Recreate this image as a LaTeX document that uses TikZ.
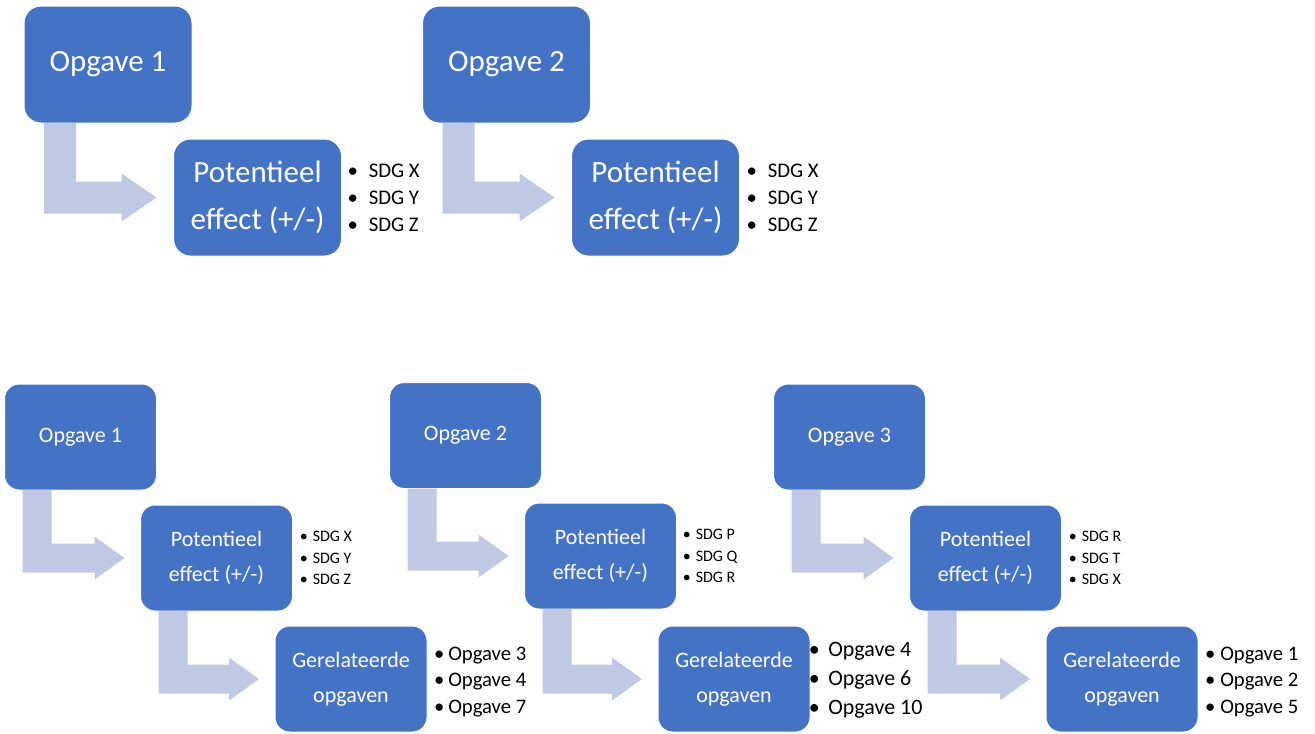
\documentclass[tikz,border=0pt]{standalone}
\usepackage{fontspec}
\setmainfont{Carlito}
\usetikzlibrary{calc}
\definecolor{boxblue}{RGB}{68,114,196}
\definecolor{arrowblue}{RGB}{191,201,227}
\newcommand{\bul}[2]{\makebox[0pt]{\textbullet}\hspace{#1}#2}
% #1 from node, #2 to node, #3 stem offset, #4 stem width, #5 head half height, #6 head length, #7 gap (all px)
\newcommand{\bentarr}[7]{%
  \fill[arrowblue] let \p1=(#1.south west), \p2=(#2.west) in
    (\x1+#3*0.75pt,\y1)
    -- (\x1+#3*0.75pt+#4*0.75pt,\y1)
    -- (\x1+#3*0.75pt+#4*0.75pt,\y2+#4*0.375pt)
    -- (\x2-#7*0.75pt-#6*0.75pt,\y2+#4*0.375pt)
    -- (\x2-#7*0.75pt-#6*0.75pt,\y2+#5*0.75pt)
    -- (\x2-#7*0.75pt,\y2)
    -- (\x2-#7*0.75pt-#6*0.75pt,\y2-#5*0.75pt)
    -- (\x2-#7*0.75pt-#6*0.75pt,\y2-#4*0.375pt)
    -- (\x1+#3*0.75pt,\y2-#4*0.375pt) -- cycle;}
\tikzset{
  tbox/.style={draw=white, line width=0.75pt, fill=boxblue, rounded corners=12.75pt,
    minimum width=126pt, minimum height=87.75pt, inner sep=0pt, outer sep=0pt,
    text=white, align=center, font=\fontsize{23.2}{35}\selectfont},
  bbox/.style={draw=white, line width=0.75pt, fill=boxblue, rounded corners=11pt,
    minimum width=114pt, minimum height=79.5pt, inner sep=0pt, outer sep=0pt,
    text=white, align=center, font=\fontsize{16.5}{26}\selectfont},
  tlist/.style={anchor=west, inner sep=0pt, align=left, font=\fontsize{15.6}{20.25}\selectfont},
  slist/.style={anchor=west, inner sep=0pt, align=left, font=\fontsize{12}{16}\selectfont},
  olist/.style={anchor=west, inner sep=0pt, align=left, font=\fontsize{15.5}{20}\selectfont},
  olistb/.style={anchor=west, inner sep=0pt, align=left, font=\fontsize{16.5}{21.75}\selectfont},
}
\begin{document}
\begin{tikzpicture}[x=0.75pt,y=-0.75pt]
\useasboundingbox (0,0) rectangle (1315,733);
% top row
\node[tbox] (to1) at (108,64.5) {Opgave 1};
\node[tbox] (tp1) at (257.5,197.5) {Potentieel\\effect (+/-)};
\node[tbox] (to2) at (506.5,64.5) {Opgave 2};
\node[tbox] (tp2) at (655.5,197.5) {Potentieel\\effect (+/-)};
\bentarr{to1}{tp1}{20}{32}{24}{35}{17}
\bentarr{to2}{tp2}{20}{32}{24}{35}{17}
\node[tlist] (tl1) at ($(tp1.east)+(11,0)$) {\bul{12pt}{SDG X}\\\bul{12pt}{SDG Y}\\\bul{12pt}{SDG Z}};
\node[tlist] (tl2) at ($(tp2.east)+(12,0)$) {\bul{12pt}{SDG X}\\\bul{12pt}{SDG Y}\\\bul{12pt}{SDG Z}};
% bottom row
\node[bbox] (bo1) at (80.5,437) {Opgave 1};
\node[bbox] (bp1) at (216.5,558) {Potentieel\\effect (+/-)};
\node[bbox] (bg1) at (351,679) {Gerelateerde\\opgaven};
\node[bbox] (bo2) at (465.5,435.5) {Opgave 2};
\node[bbox] (bp2) at (600.5,556) {Potentieel\\effect (+/-)};
\node[bbox] (bg2) at (734,679) {Gerelateerde\\opgaven};
\node[bbox] (bo3) at (849.5,437) {Opgave 3};
\node[bbox] (bp3) at (985.5,558) {Potentieel\\effect (+/-)};
\node[bbox] (bg3) at (1122,679) {Gerelateerde\\opgaven};
\bentarr{bo1}{bp1}{18}{29}{21.5}{30}{16}
\bentarr{bp1}{bg1}{18}{29}{21.5}{30}{16}
\bentarr{bo2}{bp2}{18}{29}{21.5}{30}{16}
\bentarr{bp2}{bg2}{18}{29}{21.5}{30}{16}
\bentarr{bo3}{bp3}{18}{29}{21.5}{30}{16}
\bentarr{bp3}{bg3}{18}{29}{21.5}{30}{16}
\node[slist] (sl1) at ($(bp1.east)+(11,0)$) {\bul{6.75pt}{SDG X}\\\bul{6.75pt}{SDG Y}\\\bul{6.75pt}{SDG Z}};
\node[slist] (sl2) at ($(bp2.east)+(10,0)$) {\bul{6.75pt}{SDG P}\\\bul{6.75pt}{SDG Q}\\\bul{6.75pt}{SDG R}};
\node[slist] (sl3) at ($(bp3.east)+(11,0)$) {\bul{6.75pt}{SDG R}\\\bul{6.75pt}{SDG T}\\\bul{6.75pt}{SDG X}};
\node[olist] (ol1) at ($(bg1.east)+(12,3)$) {\bul{6.75pt}{Opgave 3}\\\bul{6.75pt}{Opgave 4}\\\bul{6.75pt}{Opgave 7}};
\node[olistb] (ol2) at ($(bg2.east)+(4,1)$) {\bul{10.5pt}{Opgave 4}\\\bul{10.5pt}{Opgave 6}\\\bul{10.5pt}{Opgave 10}};
\node[olist] (ol3) at ($(bg3.east)+(12,3)$) {\bul{7.5pt}{Opgave 1}\\\bul{7.5pt}{Opgave 2}\\\bul{7.5pt}{Opgave 5}};
\end{tikzpicture}
\end{document}
